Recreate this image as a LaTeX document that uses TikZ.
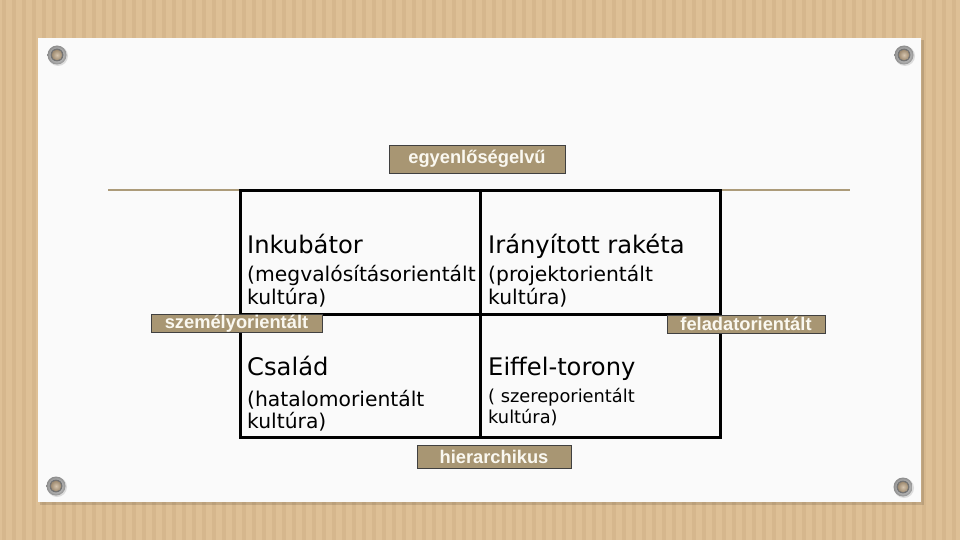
\documentclass[tikz,border=0pt]{standalone}
\usepackage{fontspec}
\setmainfont{DejaVu Sans}
\newfontfamily\labelfont{Liberation Sans}
\definecolor{wood}{RGB}{222,192,150}
\definecolor{wooddark}{RGB}{208,176,134}
\definecolor{paper}{RGB}{250,250,250}
\definecolor{tanline}{RGB}{172,155,122}
\definecolor{tagfill}{RGB}{168,150,115}
\definecolor{tagtext}{RGB}{250,248,240}
\definecolor{screwcore}{RGB}{196,172,140}
\tikzset{
  tag/.style={draw=black!75, line width=0.8pt, fill=tagfill, text=tagtext,
    font=\labelfont\bfseries\fontsize{18.3}{20}\selectfont, inner sep=0pt, anchor=center},
  title/.style={anchor=base west, inner sep=0pt, font=\fontsize{24.2}{28}\selectfont},
  sub/.style={anchor=base west, inner sep=0pt, font=\fontsize{20.3}{23}\selectfont},
  subsmall/.style={anchor=base west, inner sep=0pt, font=\fontsize{17.8}{21}\selectfont},
  gridline/.style={line width=3pt, black},
  screw/.pic={
    \fill[black!25, opacity=0.5] (1,1) circle (10);
    \shade[inner color=white, outer color=black!45] (0,0) circle (9.5);
    \fill[black!55] (0,0) circle (6.5);
    \shade[inner color=screwcore!70!white, outer color=screwcore!80!black] (0,0) circle (5.3);
  }
}
\begin{document}
\begin{tikzpicture}[x=1pt, y=-1pt]
\useasboundingbox (0,0) rectangle (960,540);
% wood background
\fill[wood] (0,0) rectangle (960,540);
\foreach \i in {0,...,95}{
  \fill[wooddark, opacity=0.55] (\i*10+2,0) rectangle (\i*10+6,540);
}
% paper
\fill[black, opacity=0.12] (40,40) rectangle (924,505);
\fill[paper] (38,38) rectangle (921,502);
% screws
\pic at (57,55) {screw};
\pic at (904,55) {screw};
\pic at (56,486) {screw};
\pic at (903,487) {screw};
% tan line
\coordinate (tl) at (108,190);
\coordinate (tr) at (850,190);
\draw[tanline, line width=1.6pt] (tl) -- (tr);
% grid
\coordinate (g1) at (240,190);
\coordinate (g2) at (720,190);
\coordinate (g3) at (720,437);
\coordinate (g4) at (240,437);
\coordinate (mt) at (480,190);
\coordinate (mb) at (480,437);
\coordinate (ml) at (240,314);
\coordinate (mr) at (720,314);
\draw[gridline] (g1) -- (g2) -- (g3) -- (g4) -- cycle;
\draw[gridline] (mt) -- (mb);
\draw[gridline] (ml) -- (mr);
% quadrant texts
\node[title] (q1t) at (247,253) {Inkubátor};
\node[sub] (q1a) at (247,281) {(megvalósításorientált};
\node[sub] (q1b) at (247,304) {kultúra)};
\node[title] (q2t) at (488,253) {Irányított rakéta};
\node[sub] (q2a) at (488,281) {(projektorientált};
\node[sub] (q2b) at (488,304) {kultúra)};
\node[title] (q3t) at (247,375) {Család};
\node[sub] (q3a) at (247,406) {(hatalomorientált};
\node[sub] (q3b) at (247,428) {kultúra)};
\node[title] (q4t) at (488,375) {Eiffel-torony};
\node[subsmall] (q4a) at (488,402) {( szereporientált};
\node[subsmall] (q4b) at (488,423) {kultúra)};
% tags
\node[tag, minimum width=176pt, minimum height=28pt] (top) at (477,159) {egyenlőségelvű};
\node[tag, minimum width=171pt, minimum height=18pt] (left) at (236.5,323.5) {személyorientált};
\node[tag, minimum width=158pt, minimum height=18pt] (right) at (746,324) {feladatorientált};
\node[tag, minimum width=154pt, minimum height=23pt] (bottom) at (494,456.5) {hierarchikus};
\end{tikzpicture}
\end{document}
